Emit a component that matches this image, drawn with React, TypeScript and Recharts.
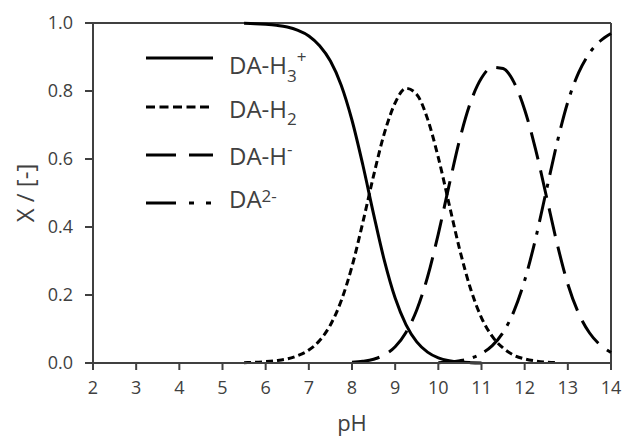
import React from 'react';
import { LineChart, Line, XAxis, YAxis, Legend, ReferenceLine } from 'recharts';

const pH = [5.5, 5.75, 6, 6.25, 6.5, 6.75, 7, 7.25, 7.5, 7.75, 8, 8.25, 8.5, 8.75, 9, 9.25, 9.5, 9.75, 10, 10.25, 10.5, 10.75, 11, 11.25, 11.5, 11.75, 12, 12.25, 12.5, 12.75, 13, 13.25, 13.5, 13.75, 14];

const daH3 = [0.999, 0.998, 0.996, 0.993, 0.988, 0.978, 0.962, 0.933, 0.888, 0.817, 0.714, 0.583, 0.438, 0.301, 0.191, 0.113, 0.062, 0.032, 0.015, 0.0066, 0.0026, 0.001, 0.0003, null, null, null, null, null, null, null, null, null, null, null, null];

const daH2 = [0.001, 0.002, 0.004, 0.007, 0.012, 0.022, 0.038, 0.066, 0.112, 0.183, 0.284, 0.413, 0.551, 0.676, 0.765, 0.808, 0.79, 0.718, 0.604, 0.467, 0.331, 0.217, 0.133, 0.078, 0.044, 0.023, 0.012, 0.006, 0.0025, 0.001, null, null, null, null, null];

const daH = [null, null, null, null, null, null, null, null, null, null, 0.002, 0.005, 0.011, 0.024, 0.048, 0.09, 0.156, 0.253, 0.38, 0.523, 0.66, 0.768, 0.838, 0.87, 0.866, 0.826, 0.745, 0.63, 0.492, 0.352, 0.232, 0.146, 0.089, 0.053, 0.031];

const da2 = [null, null, null, null, null, null, null, null, null, null, null, null, null, null, null, null, null, null, 0.001, 0.003, 0.007, 0.014, 0.028, 0.051, 0.09, 0.152, 0.243, 0.364, 0.506, 0.647, 0.768, 0.854, 0.911, 0.947, 0.969];

const xTicks = [2, 3, 4, 5, 6, 7, 8, 9, 10, 11, 12, 13, 14];
const yTicks = [0, 0.2, 0.4, 0.6, 0.8, 1.0];

const data = pH.map((p, i) => ({ pH: p, h3: daH3[i], h2: daH2[i], h: daH[i], d: da2[i] }));

const INK = '#000000';
const AXIS = '#404040';
const FONT = "'Open Sans', sans-serif";

const LegendBox = () => {
  const rows = [
    { y: 23, dash: undefined as string | undefined },
    { y: 72, dash: '9 4.5' },
    { y: 120, dash: '30 13' },
    { y: 168, dash: '30 13 5 12 5 20' },
  ];
  return (
    <svg width={200} height={185} style={{ overflow: 'visible' }}>
      {rows.map((r, i) => (
        <line key={i} x1={6} x2={73} y1={r.y} y2={r.y} stroke={INK} strokeWidth={3} strokeDasharray={r.dash} />
      ))}
      <g fontFamily={FONT} fill={AXIS} fontSize={24}>
        <text x={89} y={39}>DA-H<tspan dy={8} fontSize={17}>3</tspan><tspan dy={-19} fontSize={17}>+</tspan></text>
        <text x={89} y={83}>DA-H<tspan dy={7} fontSize={17}>2</tspan></text>
        <text x={89} y={130}>DA-H<tspan dy={-10} fontSize={17}>-</tspan></text>
        <text x={89} y={173}>DA<tspan dy={-6} fontSize={17}>2-</tspan></text>
      </g>
    </svg>
  );
};

export default function App() {
  return (
    <div style={{ position: 'absolute', left: 0, top: 0, background: '#fff' }}>
      <LineChart width={622} height={436} data={data} margin={{ top: 23, right: 11, left: 0, bottom: 0 }}>
        <XAxis
          dataKey="pH"
          type="number"
          domain={[2, 14]}
          ticks={xTicks}
          interval={0}
          height={73}
          tickSize={7}
          tickMargin={11}
          axisLine={{ stroke: AXIS, strokeWidth: 2 }}
          tickLine={{ stroke: AXIS, strokeWidth: 2 }}
          tick={{ fontSize: 18, fill: AXIS, fontFamily: FONT }}
          label={{ value: 'pH', position: 'insideBottom', offset: 5, fontSize: 22, fill: AXIS, fontFamily: FONT }}
        />
        <YAxis
          type="number"
          domain={[0, 1]}
          ticks={yTicks}
          interval={0}
          width={93}
          tickSize={8}
          tickMargin={12}
          tickFormatter={(v: number) => v.toFixed(1)}
          axisLine={{ stroke: AXIS, strokeWidth: 2 }}
          tickLine={{ stroke: AXIS, strokeWidth: 2 }}
          tick={{ fontSize: 18, fill: AXIS, fontFamily: FONT }}
          label={{ value: 'X / [-]', angle: -90, position: 'insideLeft', offset: 25, fontSize: 24, fill: AXIS, fontFamily: FONT, style: { textAnchor: 'middle' } }}
        />
        <ReferenceLine y={1} stroke={AXIS} strokeWidth={2} ifOverflow="visible" />
        <ReferenceLine x={14} stroke={AXIS} strokeWidth={2} ifOverflow="visible" />
        <Line type="monotone" dataKey="h3" stroke={INK} strokeWidth={3} dot={false} isAnimationActive={false} />
        <Line type="monotone" dataKey="h2" stroke={INK} strokeWidth={3} strokeDasharray="7 4" dot={false} isAnimationActive={false} />
        <Line type="monotone" dataKey="h" stroke={INK} strokeWidth={3} strokeDasharray="28 11" dot={false} isAnimationActive={false} />
        <Line type="monotone" dataKey="d" stroke={INK} strokeWidth={3} strokeDasharray="26 9 4 9" dot={false} isAnimationActive={false} />
        <Legend
          layout="horizontal"
          verticalAlign="middle"
          align="center"
          content={() => <LegendBox />}
          wrapperStyle={{ position: 'absolute', left: 140, top: 35, width: 200, height: 185 }}
        />
      </LineChart>
    </div>
  );
}
